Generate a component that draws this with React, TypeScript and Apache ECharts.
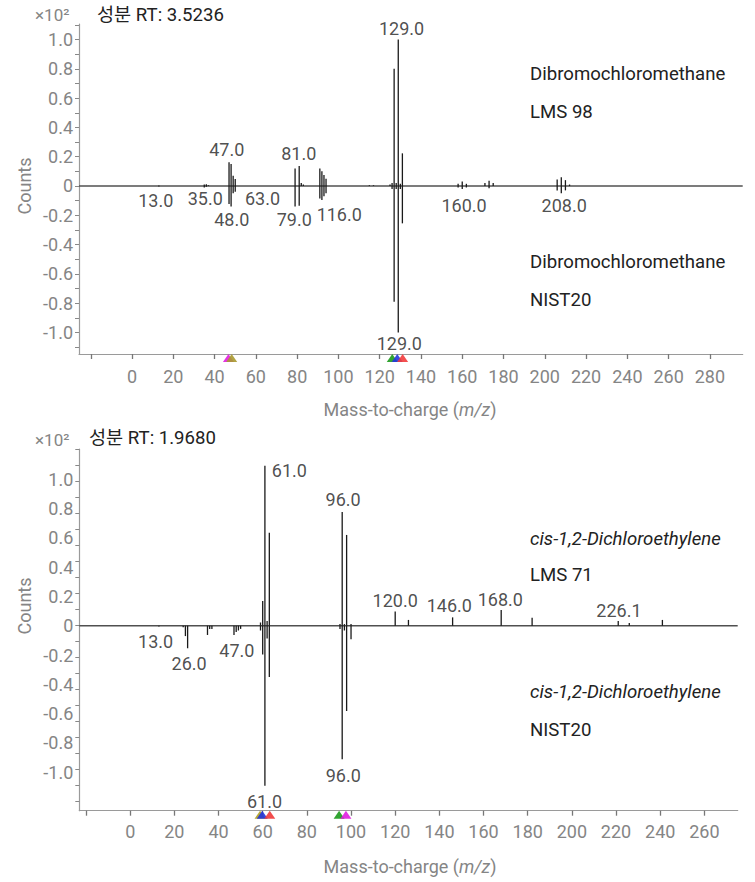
import React, { useEffect, useRef } from "react";
import * as echarts from "echarts";

// ---------- data: top chart (Dibromochloromethane) ----------
const topLmsPeaks: [number, number][] = [
  [13, 0.003], [35, 0.01], [36, 0.012], [37, 0.005],
  [47, 0.162], [48, 0.15], [49, 0.07], [50, 0.048],
  [79, 0.12], [81, 0.137], [82, 0.02], [83, 0.01],
  [91, 0.12], [92, 0.1], [93, 0.075], [94, 0.05],
  [115, 0.005], [117, 0.005],
  [125, 0.01], [126, 0.02], [127, 0.8], [128, 0.02], [129, 1.0], [130, 0.015], [131, 0.223],
  [158, 0.015], [160, 0.03], [162, 0.015],
  [171, 0.02], [173, 0.035], [175, 0.02],
  [206, 0.045], [208, 0.06], [210, 0.04], [212, 0.01],
];
const topNistPeaks: [number, number][] = [
  [13, 0.003], [35, 0.01], [36, 0.005],
  [47, 0.123], [48, 0.14], [49, 0.05], [50, 0.04],
  [79, 0.14], [81, 0.135],
  [91, 0.085], [92, 0.095], [93, 0.07], [94, 0.05],
  [126, 0.02], [127, 0.79], [128, 0.02], [129, 1.0], [130, 0.02], [131, 0.255],
  [158, 0.01], [160, 0.02], [162, 0.01],
  [173, 0.015],
  [206, 0.03], [208, 0.05], [210, 0.03],
];
// [m/z anchor, intensity anchor, text]
const topPeakLabels: [number, number, string][] = [
  [130.6, 1.076, "129.0"], [45.9, 0.246, "47.0"], [80.8, 0.223, "81.0"],
  [11.5, -0.098, "13.0"], [35.5, -0.087, "35.0"], [63.2, -0.084, "63.0"],
  [48.3, -0.232, "48.0"], [78.6, -0.227, "79.0"], [100.4, -0.192, "116.0"],
  [160.9, -0.135, "160.0"], [209.4, -0.135, "208.0"], [129.5, -1.074, "129.0"],
];
const topMarkerMz = [46.7, 48.3, 126.1, 128.5, 131.1];
const topTitle = "성분 RT: 3.5236";
const topCompound = "Dibromochloromethane";
const topLibrary = "LMS 98";
const topReference = "NIST20";

// ---------- data: bottom chart (cis-1,2-Dichloroethylene) ----------
const bottomLmsPeaks: [number, number][] = [
  [59, 0.02], [60, 0.155], [61, 1.0], [62, 0.03], [63, 0.58],
  [95, 0.01], [96, 0.71], [97, 0.01], [98, 0.567], [100, 0.01],
  [120, 0.088], [126, 0.036], [146, 0.052], [168, 0.098], [182, 0.05],
  [221, 0.03], [226, 0.017], [241, 0.036],
];
const bottomNistPeaks: [number, number][] = [
  [13, 0.005], [24, 0.01], [25, 0.065], [26, 0.141],
  [35, 0.058], [36, 0.02], [37, 0.02],
  [47, 0.058], [48, 0.04], [49, 0.03], [50, 0.02],
  [59, 0.03], [60, 0.18], [61, 1.0], [62, 0.08], [63, 0.32],
  [95, 0.02], [96, 0.835], [97, 0.03], [98, 0.533], [100, 0.085],
];
const bottomPeakLabels: [number, number, string][] = [
  [72.1, 0.967, "61.0"], [96.4, 0.79, "96.0"], [120.0, 0.16, "120.0"],
  [144.5, 0.126, "146.0"], [167.6, 0.164, "168.0"], [221.3, 0.096, "226.1"],
  [11.5, -0.1, "13.0"], [26.7, -0.235, "26.0"], [48.3, -0.152, "47.0"],
  [96.5, -0.933, "96.0"], [60.8, -1.1, "61.0"],
];
const bottomMarkerMz = [58.8, 59.8, 63.2, 94.6, 97.7];
const bottomTitle = "성분 RT: 1.9680";
const bottomCompound = "cis-1,2-Dichloroethylene";
const bottomLibrary = "LMS 71";
const bottomReference = "NIST20";

// ---------- tick values ----------
const yLabelValues = [-1.0, -0.8, -0.6, -0.4, -0.2, 0, 0.2, 0.4, 0.6, 0.8, 1.0];
const yTickValues = [
  -1.1, -1.0, -0.9, -0.8, -0.7, -0.6, -0.5, -0.4, -0.3, -0.2, -0.1, 0,
  0.1, 0.2, 0.3, 0.4, 0.5, 0.6, 0.7, 0.8, 0.9, 1.0, 1.1,
];
const topXTickValues = [-20, 0, 20, 40, 60, 80, 100, 120, 140, 160, 180, 200, 220, 240, 260, 280];
const topXLabelValues = [0, 20, 40, 60, 80, 100, 120, 140, 160, 180, 200, 220, 240, 260, 280];
const bottomXTickValues = [-20, 0, 20, 40, 60, 80, 100, 120, 140, 160, 180, 200, 220, 240, 260];
const bottomXLabelValues = [0, 20, 40, 60, 80, 100, 120, 140, 160, 180, 200, 220, 240, 260];

// ---------- styles ----------
const FONT = "Roboto, 'Noto Sans CJK KR', sans-serif";
const MARKER_COLORS_TOP = ["#e01ee0", "#a89a30", "#1c9a1c", "#2436dd", "#f23c3c"];
const MARKER_COLORS_BOTTOM = ["#b0a020", "#2233dd", "#f03a3a", "#1c9a1c", "#e01ee0"];
const AXIS_GRAY = "#9a9a9a";
const LABEL_GRAY = "#858585";
const INK = "#222222";

const fmtY = (v: number) => (Math.abs(v) < 1e-6 ? "0" : v.toFixed(1));

interface PanelCfg {
  idx: number;
  grid: { left: number; top: number; width: number; height: number };
  xMin: number; xMax: number; yMin: number; yMax: number;
  labelScale: number;
  xTicks: number[]; xLabels: number[]; xLabelMargin: number;
  lms: [number, number][]; nist: [number, number][];
  peakLabels: [number, number, string][];
  markerMz: number[]; markerColors: string[];
}

function panel(c: PanelCfg) {
  const i = c.idx;
  const xAxis = {
    type: "value", gridIndex: i, min: c.xMin, max: c.xMax,
    axisLine: { show: true, onZero: false, lineStyle: { color: AXIS_GRAY, width: 1.2 } },
    axisTick: { show: true, length: 5, customValues: c.xTicks, lineStyle: { color: "#777", width: 1.3 } },
    axisLabel: { customValues: c.xLabels, color: LABEL_GRAY, fontSize: 18, fontFamily: FONT, margin: c.xLabelMargin },
    splitLine: { show: false },
  };
  const yAxis = {
    type: "value", gridIndex: i, min: c.yMin, max: c.yMax,
    axisLine: { show: true, onZero: false, lineStyle: { color: AXIS_GRAY, width: 1.2 } },
    axisTick: { show: true, length: 4, customValues: yTickValues, lineStyle: { color: "#888", width: 1 } },
    axisLabel: {
      customValues: yLabelValues.map((v) => v * c.labelScale),
      formatter: (v: number) => fmtY(v / c.labelScale),
      color: LABEL_GRAY, fontSize: 18, fontFamily: FONT, margin: 6,
    },
    splitLine: { show: false },
  };
  const peaks = [
    ...c.lms.map(([m, v]) => [m, v]),
    ...c.nist.map(([m, v]) => [m, -v]),
  ];
  const series: any[] = [
    {
      type: "line", xAxisIndex: i, yAxisIndex: i, silent: true,
      data: [[c.xMin, 0], [c.xMax, 0]], symbol: "none",
      lineStyle: { color: "#505050", width: 1.5 }, z: 1,
    },
    {
      type: "custom", xAxisIndex: i, yAxisIndex: i, silent: true,
      data: peaks, encode: { x: 0, y: 1 }, z: 2,
      renderItem: (_p: any, api: any) => {
        const a = api.coord([api.value(0), 0]);
        const b = api.coord([api.value(0), api.value(1)]);
        return {
          type: "line",
          shape: { x1: a[0], y1: a[1], x2: b[0], y2: b[1] },
          style: { stroke: "#1a1a1a", lineWidth: 1.3 },
        };
      },
    },
    {
      type: "scatter", xAxisIndex: i, yAxisIndex: i, silent: true,
      data: c.peakLabels, symbolSize: 0, encode: { x: 0, y: 1 }, z: 5,
      label: {
        show: true, position: "inside", formatter: (p: any) => p.data[2],
        color: INK, fontSize: 18, fontFamily: FONT,
      },
    },
    {
      type: "scatter", xAxisIndex: i, yAxisIndex: i, silent: true, clip: false,
      symbol: "triangle", symbolSize: [11, 8], symbolOffset: [0, 4], z: 6,
      data: c.markerMz.map((m, k) => ({
        value: [m, c.yMin],
        itemStyle: { color: c.markerColors[k], opacity: 0.9 },
      })),
    },
  ];
  return { grid: { ...c.grid, containLabel: false }, xAxis, yAxis, series };
}

function txt(x: number, y: number, text: string, opts: any = {}) {
  return {
    type: "text", x, y, silent: true, rotation: opts.rotation || 0,
    style: {
      text, fill: opts.fill || INK, fontSize: opts.fontSize || 18.6, fontFamily: FONT,
      fontStyle: opts.italic ? "italic" : "normal",
      textAlign: opts.align || "left", textVerticalAlign: "middle",
      rich: opts.rich,
    },
  };
}

export default function App() {
  const ref = useRef<HTMLDivElement>(null);
  useEffect(() => {
    if (!ref.current) return;
    const chart = echarts.init(ref.current, undefined, { renderer: "svg" });
    const top = panel({
      idx: 0, grid: { left: 79, top: 24, width: 663.7, height: 330 },
      xMin: -25.7, xMax: 295.9, yMin: -1.147, yMax: 1.106, labelScale: 1,
      xTicks: topXTickValues, xLabels: topXLabelValues, xLabelMargin: 13,
      lms: topLmsPeaks, nist: topNistPeaks, peakLabels: topPeakLabels,
      markerMz: topMarkerMz, markerColors: MARKER_COLORS_TOP,
    });
    const bot = panel({
      idx: 1, grid: { left: 79.3, top: 449, width: 658.4, height: 361.7 },
      xMin: -23.05, xMax: 275.1, yMin: -1.156, yMax: 1.104, labelScale: 0.916,
      xTicks: bottomXTickValues, xLabels: bottomXLabelValues, xLabelMargin: 12,
      lms: bottomLmsPeaks, nist: bottomNistPeaks, peakLabels: bottomPeakLabels,
      markerMz: bottomMarkerMz, markerColors: MARKER_COLORS_BOTTOM,
    });
    const axisName = "Mass-to-charge ({i|m/z})";
    const nameRich = {
      i: { fontStyle: "italic", fontSize: 18, fontFamily: FONT, fill: LABEL_GRAY, color: LABEL_GRAY },
    };
    const option: any = {
      animation: false,
      textStyle: { fontFamily: FONT },
      grid: [top.grid, bot.grid],
      xAxis: [top.xAxis, bot.xAxis],
      yAxis: [top.yAxis, bot.yAxis],
      series: [...top.series, ...bot.series],
      graphic: [
        txt(35, 15, "×10²", { fill: LABEL_GRAY, fontSize: 17 }),
        txt(97, 15, topTitle),
        txt(24, 186, "Counts", { fill: LABEL_GRAY, align: "center", rotation: Math.PI / 2, fontSize: 18 }),
        txt(530, 74, topCompound),
        txt(530, 112, topLibrary),
        txt(530, 262, topCompound),
        txt(530, 300, topReference),
        txt(410, 409, axisName, { fill: LABEL_GRAY, align: "center", rich: nameRich, fontSize: 18 }),
        txt(35, 440, "×10²", { fill: LABEL_GRAY, fontSize: 17 }),
        txt(89, 438, bottomTitle),
        txt(24, 606, "Counts", { fill: LABEL_GRAY, align: "center", rotation: Math.PI / 2, fontSize: 18 }),
        txt(530, 539, bottomCompound, { italic: true }),
        txt(530, 575, bottomLibrary),
        txt(530, 692, bottomCompound, { italic: true }),
        txt(530, 730, bottomReference),
        txt(410, 866, axisName, { fill: LABEL_GRAY, align: "center", rich: nameRich, fontSize: 18 }),
      ],
    };
    chart.setOption(option);
    return () => chart.dispose();
  }, []);
  return (
    <div
      ref={ref}
      style={{ position: "absolute", left: 0, top: 0, width: 755, height: 882, background: "#fff" }}
    />
  );
}
